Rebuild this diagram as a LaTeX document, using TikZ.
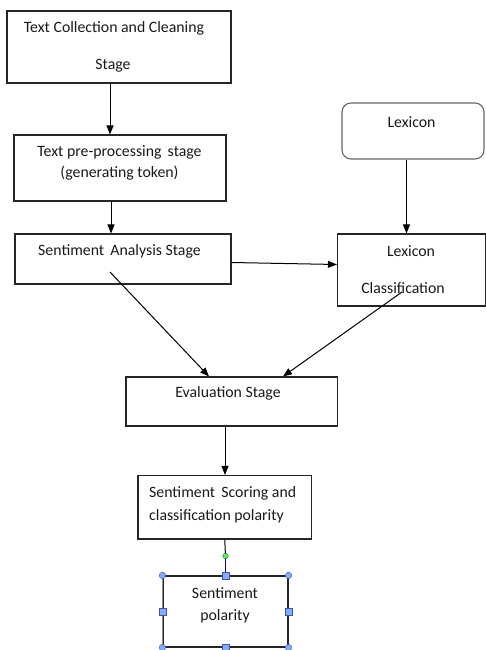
\documentclass[tikz,border=0pt]{standalone}
\usepackage{fontspec}
\setmainfont{Carlito}
\usetikzlibrary{arrows.meta,calc}
\begin{document}
\begin{tikzpicture}[x=1pt,y=-1pt,
  box/.style={draw=black!85, line width=1.1pt, inner sep=0pt},
  rbox/.style={draw=black!60, line width=1.1pt, rounded corners=9pt, inner sep=0pt},
  txt/.style={font=\fontsize{15.8}{18}\selectfont, inner sep=0pt, text=black!90},
  arr/.style={draw=black, line width=1pt, -{Triangle[length=9pt,width=7pt]}},
  hc/.style={circle, draw=blue!60!black!70, fill=blue!35!cyan!40!white!80!blue, line width=0.4pt, minimum size=6.5pt, inner sep=0pt},
  hs/.style={rectangle, draw=blue!60!black!70, fill=blue!35!cyan!40!white!80!blue, line width=0.4pt, minimum size=6.5pt, inner sep=0pt},
]
\useasboundingbox (0,0) rectangle (486,650);
% boxes
\node[box, minimum width=224pt, minimum height=72pt] (b1) at (119,47) {};
\node[box, minimum width=212pt, minimum height=66pt] (b2) at (120,168) {};
\node[box, minimum width=216pt, minimum height=50pt] (b3) at (123,259) {};
\node[rbox, minimum width=142pt, minimum height=56pt] (lex) at (413,131) {};
\node[box, minimum width=148pt, minimum height=72pt] (lc) at (411.5,270) {};
\node[box, minimum width=211.5pt, minimum height=49pt] (ev) at (231.75,401.5) {};
\node[box, minimum width=173.5pt, minimum height=63.5pt] (sc) at (224.75,507.25) {};
\node[box, minimum width=125pt, minimum height=71pt] (pol) at (225.5,611.5) {};
\draw[draw=black!45, line width=1.1pt] (pol.north west) -- (pol.south west);
% texts
\node[txt] (t1a) at (114,28) {Text Collection and Cleaning};
\node[txt] (t1b) at (113,66) {Stage};
\node[txt] (t2a) at (119.5,152) {Text pre-processing\, stage};
\node[txt] (t2b) at (119.5,173.5) {(generating token)};
\node[txt] (t3) at (119.5,251) {Sentiment\, Analysis Stage};
\node[txt] (tlex) at (411.5,122) {Lexicon};
\node[txt] (tlc1) at (411,251) {Lexicon};
\node[txt] (tlc2) at (403,288) {Classification};
\node[txt] (tev) at (228,393) {Evaluation Stage};
\node[txt, anchor=west] (tsc1) at (149,493) {Sentiment\, Scoring and};
\node[txt, anchor=west] (tsc2) at (149,516) {classification polarity};
\node[txt] (tp1) at (225,593) {Sentiment};
\node[txt] (tp2) at (225,616) {polarity};
% connectors
\draw[arr] ($(b1.south)+(-9,0)$) -- ($(b2.north)+(-10,0)$);
\draw[arr] ($(b2.south)+(-9,0)$) -- ($(b3.north)+(-12,0)$);
\draw[arr] ($(b3.east)+(0,3.5)$) -- ($(lc.west)+(0,-5.5)$);
\draw[arr] ($(lex.south)+(-6.5,0)$) -- ($(lc.north)+(-5,0)$);
\draw[arr] ($(b3.center)+(-13,13)$) -- ($(ev.north)+(-22.75,0)$);
\draw[arr] ($(lc.center)+(-9.5,22)$) -- ($(ev.north)+(51.25,0)$);
\draw[arr] ($(ev.south)+(-6.75,0)$) -- ($(sc.north)+(0.25,0)$);
\coordinate (g) at (225.5,556);
\draw[black, line width=1pt] (sc.south) -- (g);
\draw[blue!50!black!80!violet, line width=1.1pt] (g) -- (pol.north);
\node[circle, draw=green!50!black, fill=green!85!black!60!white, minimum size=5.5pt, inner sep=0pt, line width=0.4pt] (gd) at (g) {};
% handles
\node[hc] (h1) at (pol.north west) {};
\node[hc] (h2) at (pol.north east) {};
\node[hc] (h3) at (pol.south west) {};
\node[hc] (h4) at (pol.south east) {};
\node[hs] (h5) at (pol.north) {};
\node[hs] (h6) at (pol.south) {};
\node[hs] (h7) at (pol.west) {};
\node[hs] (h8) at (pol.east) {};
\end{tikzpicture}
\end{document}
